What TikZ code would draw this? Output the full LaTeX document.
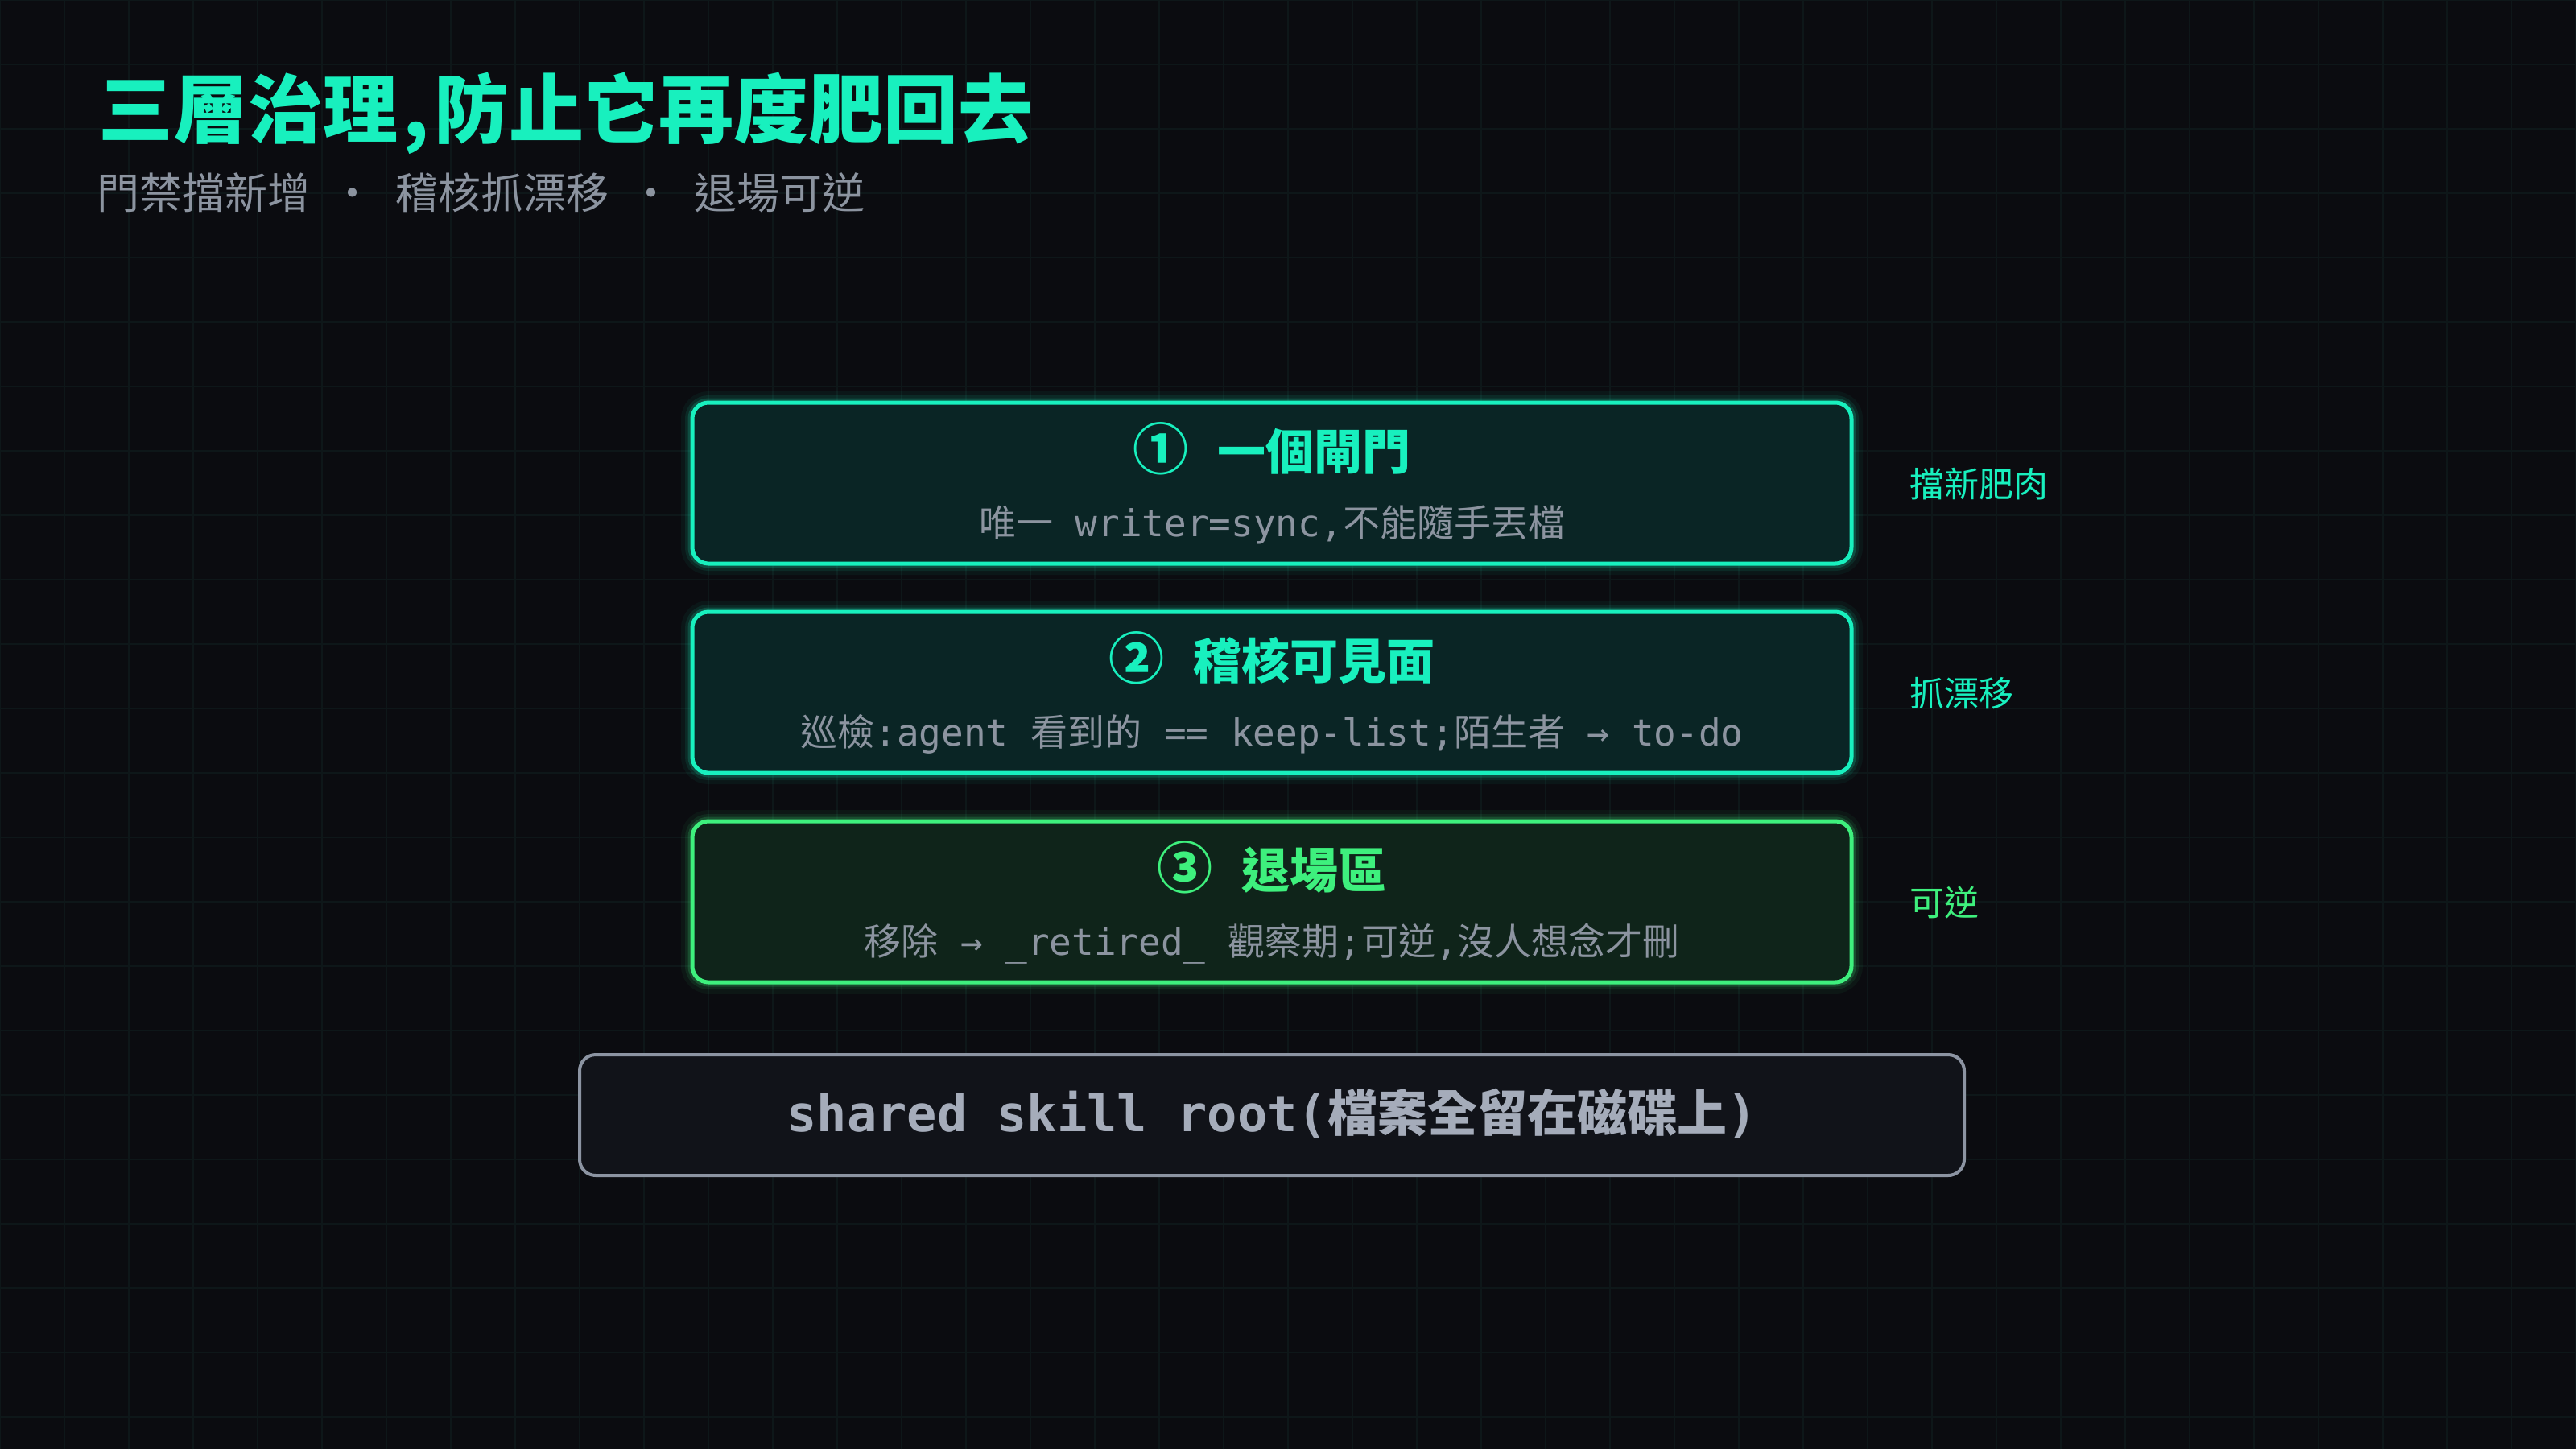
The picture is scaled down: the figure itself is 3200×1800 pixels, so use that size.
\documentclass[tikz,border=0pt]{standalone}
\usepackage{fontspec}
\setmonofont{DejaVu Sans Mono}
\newfontfamily\cjk{Noto Sans CJK TC}
\definecolor{bgcol}{RGB}{11,12,16}
\definecolor{gridcol}{RGB}{14,23,25}
\definecolor{mint}{RGB}{24,240,190}
\definecolor{leaf}{RGB}{62,240,125}
\definecolor{mintfill}{RGB}{10,37,37}
\definecolor{leaffill}{RGB}{15,36,26}
\definecolor{ash}{RGB}{140,148,160}
\definecolor{rootline}{RGB}{140,148,162}
\definecolor{rootfill}{RGB}{17,19,25}
\definecolor{rootink}{RGB}{165,172,186}

\begin{document}
\begin{tikzpicture}[x=1pt,y=-1pt,
  tier/.style={draw=#1, line width=5pt, rounded corners=20pt, inner sep=0pt,
    minimum width=1440pt, minimum height=200pt,
    preaction={draw=#1, draw opacity=0.05, line width=28pt},
    preaction={draw=#1, draw opacity=0.09, line width=18pt},
    preaction={draw=#1, draw opacity=0.18, line width=11pt}},
  head/.style={anchor=base, inner sep=0pt, font=\cjk\bfseries\fontsize{60}{72}\selectfont},
  note/.style={anchor=base, inner sep=0pt, text=ash, font=\ttfamily\fontsize{46}{56}\selectfont},
  tag/.style={anchor=base west, inner sep=0pt, font=\cjk\fontsize{43}{52}\selectfont}]
\useasboundingbox (0,0) rectangle (3200,1800);
\fill[bgcol] (0,0) rectangle (3200,1800);
\draw[gridcol, line width=1.5pt] (0,0) grid [step=80pt] (3200,1800);

\node (title) [anchor=base west, inner sep=0pt, text=mint,
  font=\cjk\bfseries\fontsize{93}{110}\selectfont] at (122,170) {三層治理\kern0.07em,\kern0.07em防止它再度肥回去};
\node (subtitle) [anchor=base west, inner sep=0pt, text=ash,
  font=\cjk\fontsize{53}{62}\selectfont] at (120,259)
  {門禁擋新增\makebox[2em]{·}稽核抓漂移\makebox[2em]{·}退場可逆};

\node (gate) [tier=mint, fill=mintfill] at (1580,600) {};
\node (gatehead) [head, text=mint] at (1580,583) {\scalebox{1.15}{①}\hspace{0.6em}一個閘門};
\node (gatenote) [note] at (1580,666) {{\cjk 唯一} writer=sync,{\cjk 不能隨手丟檔}};
\node (gatetag) [tag, text=mint] at (2372,617) {擋新肥肉};

\begin{scope}[shift={(0,260)}]
\node (audit) [tier=mint, fill=mintfill] at (1580,600) {};
\node (audithead) [head, text=mint] at (1580,583) {\scalebox{1.15}{②}\hspace{0.6em}稽核可見面};
\node (auditnote) [note] at (1580,666) {{\cjk 巡檢}:agent {\cjk 看到的} == keep-list;{\cjk 陌生者} → to-do};
\node (audittag) [tag, text=mint] at (2372,617) {抓漂移};
\end{scope}

\begin{scope}[shift={(0,520)}]
\node (retire) [tier=leaf, fill=leaffill] at (1580,600) {};
\node (retirehead) [head, text=leaf] at (1580,583) {\scalebox{1.15}{③}\hspace{0.6em}退場區};
\node (retirenote) [note] at (1580,666) {{\cjk 移除} → \_retired\_ {\cjk 觀察期};{\cjk 可逆},{\cjk 沒人想念才刪}};
\node (retiretag) [tag, text=leaf] at (2372,617) {可逆};
\end{scope}

\node (root) [draw=rootline, fill=rootfill, line width=4pt, rounded corners=20pt,
  minimum width=1720pt, minimum height=150pt] at (1580,1385) {};
\node (rootlabel) [anchor=base, inner sep=0pt, text=rootink,
  font=\ttfamily\bfseries\fontsize{62}{72}\selectfont] at (1580,1405)
  {shared skill root({\cjk 檔案全留在磁碟上})};
\end{tikzpicture}
\end{document}
